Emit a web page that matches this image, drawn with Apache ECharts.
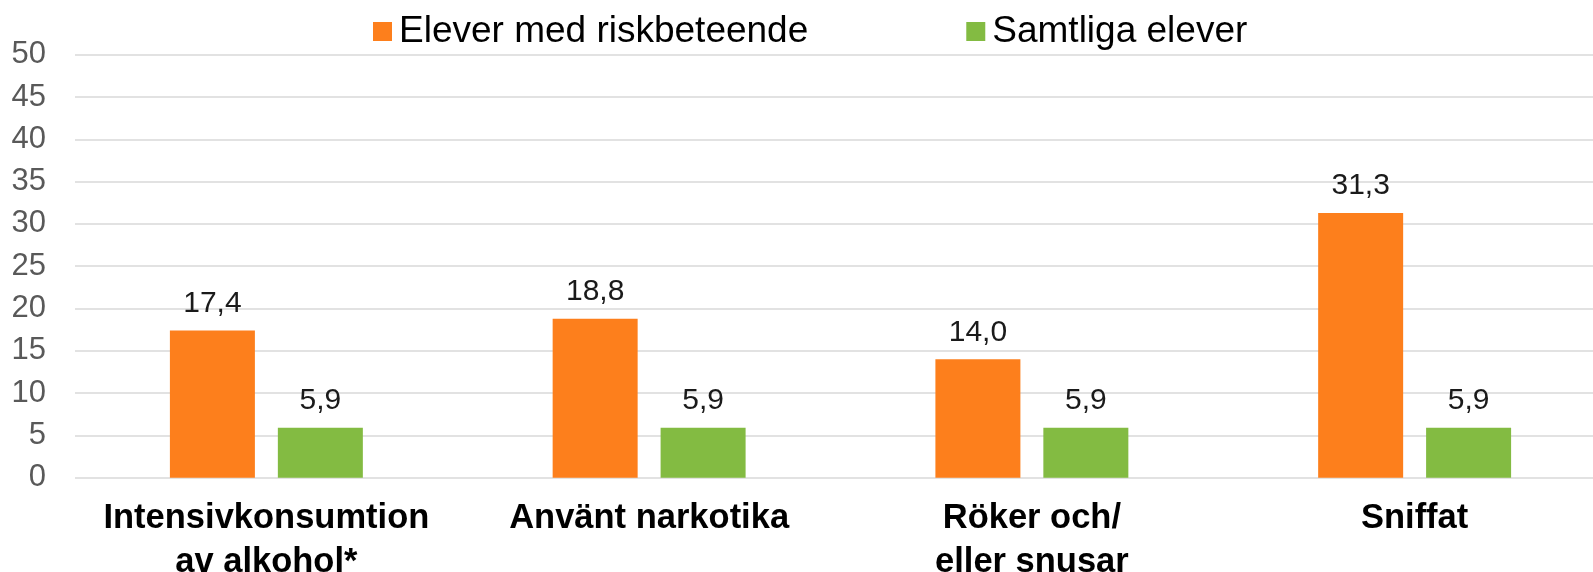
<!DOCTYPE html>
<html>
<head>
<meta charset="utf-8">
<script src="https://cdn.jsdelivr.net/npm/echarts@6/dist/echarts.min.js"></script>
<style>
  html, body { margin: 0; padding: 0; background: #fff; }
  #app { width: 1593px; height: 572px; }
</style>
</head>
<body>
<div id="app"></div>
<script>
// kategorier och värden
var categories = ['Intensivkonsumtion\nav alkohol*', 'Använt narkotika', 'Röker och/\neller snusar', 'Sniffat'];
var riskValues = [17.4, 18.8, 14.0, 31.3];
var allValues = [5.9, 5.9, 5.9, 5.9];
var seriesNames = ['Elever med riskbeteende', 'Samtliga elever'];
var yTicks = { min: 0, max: 50, interval: 5 };

var chart = echarts.init(document.getElementById('app'));
var fontFam = '"Liberation Sans", Arial, sans-serif';

var labelOpt = {
    show: true,
    position: 'top',
    distance: 12,
    color: '#1a1a1a',
    fontSize: 30,
    fontFamily: fontFam,
    formatter: function (p) { return p.value.toFixed(1).replace('.', ','); }
};

var option = {
    animation: false,
    legend: {
        left: 368,
        top: 8,
        itemWidth: 19,
        itemHeight: 19,
        itemGap: 158,
        icon: 'rect',
        textStyle: { fontSize: 37, color: '#000', fontFamily: fontFam, padding: [0, 0, 0, 2] },
        data: seriesNames
    },
    // plottytan går lite utanför högerkanten
    grid: { left: 75, width: 1531, top: 54.7, height: 423, outerBoundsMode: 'none', containLabel: false },
    xAxis: {
        type: 'category',
        data: categories,
        axisLine: { show: false },
        axisTick: { show: false },
        axisLabel: {
            margin: 19,
            fontSize: 34.5,
            lineHeight: 44,
            fontWeight: 'bold',
            color: '#000',
            fontFamily: fontFam,
            interval: 0
        }
    },
    yAxis: {
        type: 'value',
        min: yTicks.min,
        max: yTicks.max,
        interval: yTicks.interval,
        axisLine: { show: false },
        axisTick: { show: false },
        axisLabel: { margin: 29, fontSize: 31, color: '#595959', fontFamily: fontFam },
        splitLine: { lineStyle: { color: '#d9d9d9', width: 1.5 } }
    },
    series: [
        {
            name: seriesNames[0],
            type: 'bar',
            data: riskValues,
            barWidth: 85,
            barGap: '27%',
            itemStyle: { color: '#fd7f1c' },
            label: labelOpt
        },
        {
            name: seriesNames[1],
            type: 'bar',
            data: allValues,
            barWidth: 85,
            itemStyle: { color: '#83bb42' },
            label: labelOpt
        }
    ]
};
chart.setOption(option);
</script>
</body>
</html>
